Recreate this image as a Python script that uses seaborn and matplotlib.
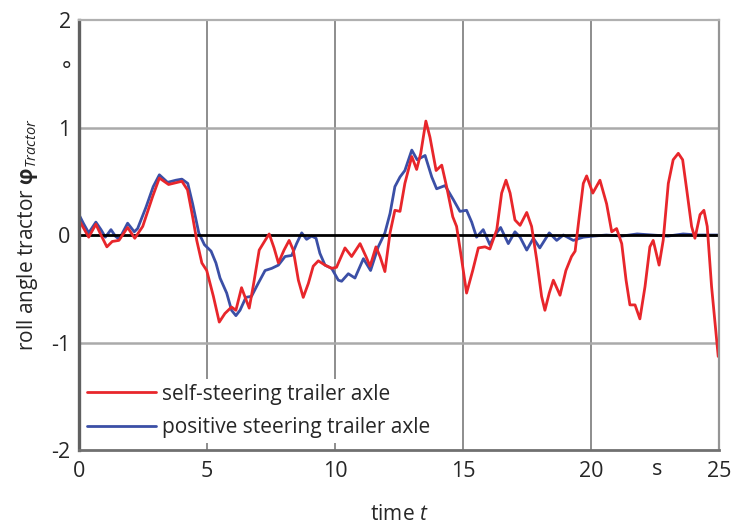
import pandas as pd
import seaborn as sns
import matplotlib.pyplot as plt
import matplotlib.transforms as mtransforms

# roll angle of the tractor
t_self = [0, 0.38, 0.66, 0.86, 1.09, 1.3, 1.56, 1.9, 2.18, 2.49, 2.88, 3.14, 3.5, 4.02, 4.24,
          4.44, 4.6, 4.8, 4.99, 5.25, 5.48, 5.7, 5.96, 6.13, 6.35, 6.65, 6.81, 7.04, 7.27, 7.43,
          7.62, 7.79, 8.01, 8.21, 8.37, 8.57, 8.76, 8.96, 9.15, 9.35, 9.61, 9.87, 10.06, 10.39,
          10.65, 10.98, 11.21, 11.37, 11.6, 11.76, 11.95, 12.15, 12.34, 12.54, 12.73, 13.0, 13.19,
          13.35, 13.55, 13.71, 13.95, 14.17, 14.36, 14.6, 14.75, 14.95, 15.14, 15.38, 15.6, 15.86,
          16.05, 16.32, 16.51, 16.68, 16.84, 17.03, 17.23, 17.49, 17.68, 17.88, 18.07, 18.2, 18.37,
          18.53, 18.79, 19.02, 19.24, 19.38, 19.54, 19.7, 19.83, 20.07, 20.35, 20.61, 20.81, 21.0,
          21.2, 21.37, 21.52, 21.72, 21.91, 22.11, 22.3, 22.43, 22.66, 22.82, 23.02, 23.21, 23.41,
          23.58, 23.74, 23.93, 24.06, 24.26, 24.41, 24.54, 24.71, 24.97]
phi_self = [0.14, -0.02, 0.10, 0.0, -0.11, -0.06, -0.05, 0.07, -0.03, 0.08, 0.36, 0.53, 0.47, 0.50, 0.42,
            0.17, -0.05, -0.26, -0.33, -0.57, -0.81, -0.73, -0.67, -0.70, -0.49, -0.68, -0.47, -0.14, -0.05, 0.01,
            -0.12, -0.26, -0.14, -0.05, -0.14, -0.42, -0.58, -0.45, -0.29, -0.24, -0.28, -0.31, -0.30, -0.12,
            -0.20, -0.08, -0.20, -0.29, -0.11, -0.20, -0.34, 0.02, 0.23, 0.22, 0.48, 0.73, 0.61,
            0.76, 1.06, 0.91, 0.60, 0.65, 0.45, 0.17, 0.08, -0.23, -0.54, -0.33, -0.12, -0.11,
            -0.13, 0.05, 0.39, 0.51, 0.39, 0.14, 0.09, 0.21, 0.08, -0.23, -0.57, -0.70, -0.54,
            -0.42, -0.56, -0.33, -0.20, -0.15, 0.17, 0.48, 0.55, 0.39, 0.51, 0.29, 0.03, 0.06,
            -0.08, -0.42, -0.65, -0.65, -0.78, -0.48, -0.11, -0.05, -0.28, -0.05, 0.48, 0.70, 0.76,
            0.70, 0.42, 0.08, -0.03, 0.19, 0.23, 0.08, -0.48, -1.13]

t_pos = [0, 0.17, 0.38, 0.66, 0.86, 1.03, 1.25, 1.42, 1.57, 1.9, 2.16, 2.29, 2.62, 2.9, 3.14, 3.46,
         3.79, 4.02, 4.25, 4.44, 4.68, 4.9, 5.16, 5.35, 5.51, 5.77, 5.96, 6.13, 6.29, 6.52, 6.74,
         7.0, 7.27, 7.53, 7.79, 8.05, 8.31, 8.5, 8.7, 8.89, 9.09, 9.26, 9.41, 9.61, 9.87, 10.13,
         10.26, 10.52, 10.78, 11.11, 11.39, 11.69, 11.95, 12.15, 12.34, 12.54, 12.73, 13.0, 13.21,
         13.52, 13.78, 13.97, 14.3, 14.62, 14.88, 15.14, 15.34, 15.53, 15.79, 16.05, 16.25, 16.47,
         16.77, 17.03, 17.23, 17.49, 17.75, 18.0, 18.37, 18.66, 18.92, 19.31, 19.7, 20.09, 20.6,
         21.2, 21.8, 22.4, 23.0, 23.6, 24.2, 25.0]
phi_pos = [0.19, 0.11, 0.02, 0.12, 0.05, -0.02, 0.05, -0.01, -0.04, 0.11, 0.03, 0.06, 0.26, 0.45, 0.56, 0.49,
           0.51, 0.52, 0.48, 0.29, 0.02, -0.09, -0.15, -0.26, -0.40, -0.54, -0.70, -0.75, -0.70, -0.58, -0.57,
           -0.45, -0.33, -0.31, -0.28, -0.20, -0.19, -0.08, 0.02, -0.04, -0.01, -0.03, -0.17, -0.28, -0.31, -0.42,
           -0.43, -0.36, -0.40, -0.22, -0.33, -0.11, 0.02, 0.20, 0.45, 0.54, 0.60, 0.79, 0.70,
           0.74, 0.54, 0.43, 0.46, 0.33, 0.22, 0.23, 0.12, -0.02, 0.05, -0.09, 0.0, 0.07,
           -0.08, 0.03, -0.02, -0.14, -0.03, -0.12, 0.02, -0.05, 0.0, -0.05, -0.02, -0.01, 0.0,
           -0.01, 0.01, 0.0, -0.01, 0.01, 0.0, 0.0]

labels = ["self-steering trailer axle", "positive steering trailer axle"]
colors = ["#e8262b", "#3b4fa6"]
xticks = [0, 5, 10, 15, 20, 25]
yticks = [-2, -1, 0, 1, 2]

sns.set_theme(style="white")
plt.rcParams["font.family"] = ["Open Sans", "DejaVu Sans"]
plt.rcParams["mathtext.fontset"] = "custom"
plt.rcParams["mathtext.rm"] = "Open Sans"
plt.rcParams["mathtext.it"] = "Open Sans:italic"
plt.rcParams["mathtext.bf"] = "Open Sans:bold"
plt.rcParams["mathtext.bfit"] = "Open Sans:bold:italic"

fig = plt.figure(figsize=(7.36, 5.31), dpi=100)
ax = fig.add_axes([0.1073, 0.1525, 0.8696, 0.8098])

for x in xticks[1:-1]:
    ax.axvline(x, color="#858585", lw=1.3, zorder=1)
for y in [-1, 1]:
    ax.axhline(y, color="#aaaaaa", lw=1.8, zorder=1)

df_pos = pd.DataFrame({"t": t_pos, "phi": phi_pos})
df_self = pd.DataFrame({"t": t_self, "phi": phi_self})
sns.lineplot(data=df_pos, x="t", y="phi", color=colors[1], lw=2.0, label=labels[1], ax=ax, zorder=3)
ax.axhline(0, color="black", lw=2.0, zorder=4)
sns.lineplot(data=df_self, x="t", y="phi", color=colors[0], lw=2.0, label=labels[0], ax=ax, zorder=5)

ax.set_xlim(0, 25)
ax.set_ylim(-2, 2)
ax.set_xticks(xticks)
ax.set_yticks(yticks)
ax.set_xticklabels([str(v) for v in xticks], fontsize=15.5)
ax.set_yticklabels([str(v) for v in yticks], fontsize=15.5)
ax.tick_params(axis="x", direction="in", length=4, color="#888888", width=1, pad=8)
ax.tick_params(axis="y", length=0, pad=6)

for side, c, w in [("left", "#606060", 2.4), ("bottom", "#707070", 2.0),
                   ("top", "#b0b0b0", 1.6), ("right", "#959595", 1.6)]:
    ax.spines[side].set_color(c)
    ax.spines[side].set_linewidth(w)
    ax.spines[side].set_zorder(7)

# unit marks in the tick rows
ax.text(-0.012, 1.52, "°", transform=mtransforms.blended_transform_factory(ax.transAxes, ax.transData),
        ha="right", va="center", fontsize=16)
ax.text(22.6, -0.022, "s", transform=mtransforms.blended_transform_factory(ax.transData, ax.transAxes),
        ha="center", va="top", fontsize=15.5)

ax.set_xlabel(r"time $\mathit{t}$", fontsize=15, labelpad=16)
ax.set_ylabel(r"roll angle tractor $\boldsymbol{\varphi}_{\mathit{Tractor}}$", fontsize=15, labelpad=8)

h, l = ax.get_legend_handles_labels()
leg = ax.legend([h[1], h[0]], [l[1], l[0]], loc="lower left", bbox_to_anchor=(0.0, 0.008),
                fontsize=15, handlelength=3.3, handletextpad=0.3, labelspacing=0.6,
                frameon=True, fancybox=False, framealpha=1, borderpad=0.25, borderaxespad=0.15)
leg.get_frame().set_facecolor("white")
leg.get_frame().set_edgecolor("none")
leg.set_zorder(6)

fig.savefig("out.png", dpi=100)
